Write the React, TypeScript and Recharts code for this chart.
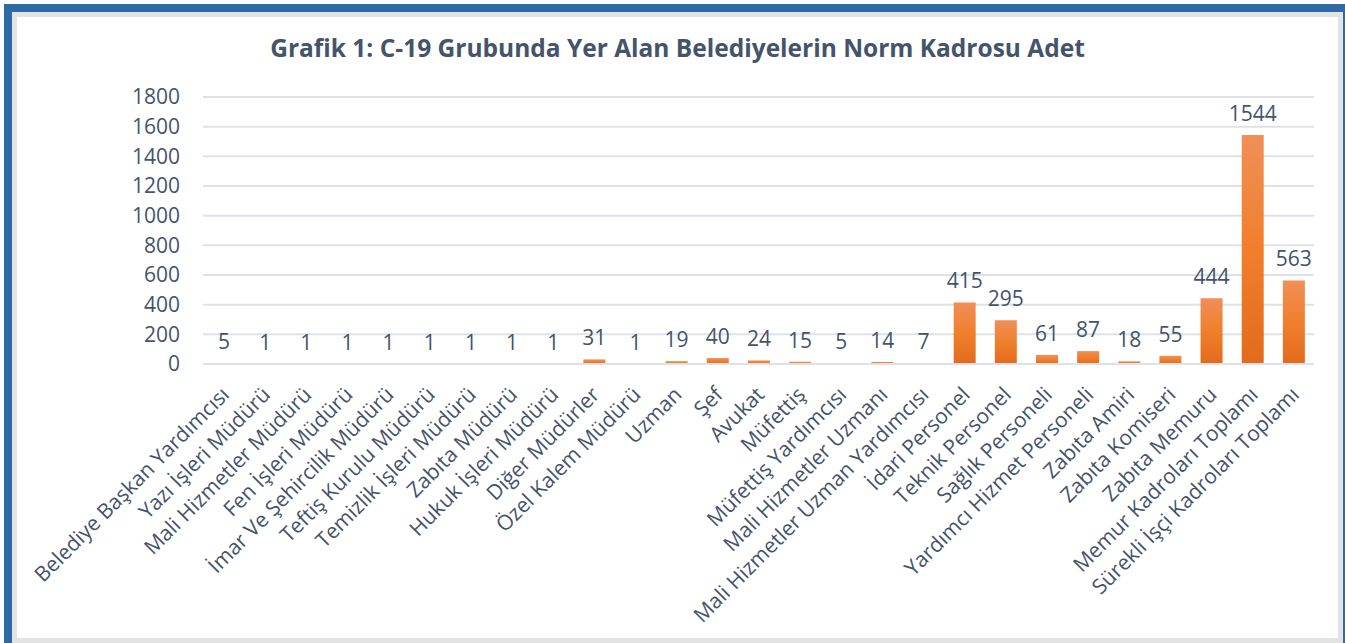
import { Bar, BarChart, CartesianGrid, LabelList, XAxis, YAxis } from "recharts";

const categories = [
  "Belediye Başkan Yardımcısı",
  "Yazı İşleri Müdürü",
  "Mali Hizmetler Müdürü",
  "Fen İşleri Müdürü",
  "İmar Ve Şehircilik Müdürü",
  "Teftiş Kurulu Müdürü",
  "Temizlik İşleri Müdürü",
  "Zabıta Müdürü",
  "Hukuk İşleri Müdürü",
  "Diğer Müdürler",
  "Özel Kalem Müdürü",
  "Uzman",
  "Şef",
  "Avukat",
  "Müfettiş",
  "Müfettiş Yardımcısı",
  "Mali Hizmetler Uzmanı",
  "Mali Hizmetler Uzman Yardımcısı",
  "İdari Personel",
  "Teknik Personel",
  "Sağlık Personeli",
  "Yardımcı Hizmet Personeli",
  "Zabıta Amiri",
  "Zabıta Komiseri",
  "Zabıta Memuru",
  "Memur Kadroları Toplamı",
  "Sürekli İşçi Kadroları Toplamı",
];

const values = [5, 1, 1, 1, 1, 1, 1, 1, 1, 31, 1, 19, 40, 24, 15, 5, 14, 7, 415, 295, 61, 87, 18, 55, 444, 1544, 563];

const yTicks = [0, 200, 400, 600, 800, 1000, 1200, 1400, 1600, 1800];

const data = categories.map((name, i) => ({ name, value: values[i] }));

const TEXT = "#44546A";
const FONT = "'Open Sans', sans-serif";

function AngledTick({ x, y, payload }: any) {
  return (
    <text
      x={x + 7}
      y={y + 24}
      transform={`rotate(-45, ${x + 7}, ${y + 24})`}
      textAnchor="end"
      fill={TEXT}
      fontSize={21}
      fontFamily={FONT}
    >
      {payload.value}
    </text>
  );
}

export default function App() {
  return (
    <div style={{ position: "relative", width: 1345, height: 643, background: "#fff", overflow: "hidden" }}>
      <style>{"body{margin:0}"}</style>
      <div
        style={{
          position: "absolute",
          left: 4,
          top: 4,
          width: 1341,
          height: 639,
          boxSizing: "border-box",
          borderTop: "8px solid #2f6aa5",
          borderLeft: "8px solid #2f6aa5",
          borderRight: "2px solid #2f6aa5",
          background: "#e3e3e3",
        }}
      />
      <div style={{ position: "absolute", left: 17, top: 17, width: 1321, height: 621, background: "#fff" }}>
        <div
          style={{
            position: "absolute",
            left: 0,
            top: 14,
            width: "100%",
            textAlign: "center",
            color: TEXT,
            fontFamily: FONT,
            fontWeight: 700,
            fontSize: 24.5,
          }}
        >
          Grafik 1: C-19 Grubunda Yer Alan Belediyelerin Norm Kadrosu Adet
        </div>
        <BarChart width={1321} height={621} data={data} margin={{ top: 80, right: 24, bottom: 0, left: 0 }}>
          <defs>
            <linearGradient id="barFill" x1="0" y1="0" x2="0" y2="1">
              <stop offset="0%" stopColor="#F08F58" />
              <stop offset="50%" stopColor="#F07F2C" />
              <stop offset="100%" stopColor="#E26B1B" />
            </linearGradient>
          </defs>
          <CartesianGrid vertical={false} stroke="#DEE2E8" strokeWidth={2} />
          <XAxis
            dataKey="name"
            interval={0}
            height={274}
            axisLine={{ stroke: "#DEE2E8", strokeWidth: 2 }}
            tickLine={false}
            tick={<AngledTick />}
          />
          <YAxis
            width={186}
            domain={[0, 1800]}
            ticks={yTicks}
            interval={0}
            axisLine={false}
            tickLine={false}
            tickMargin={17}
            tick={{ fill: TEXT, fontSize: 21, fontFamily: FONT }}
          />
          <Bar dataKey="value" fill="url(#barFill)" barSize={22} isAnimationActive={false}>
            <LabelList dataKey="value" position="top" offset={14} fill={TEXT} fontSize={21} fontFamily={FONT} />
          </Bar>
        </BarChart>
      </div>
    </div>
  );
}
